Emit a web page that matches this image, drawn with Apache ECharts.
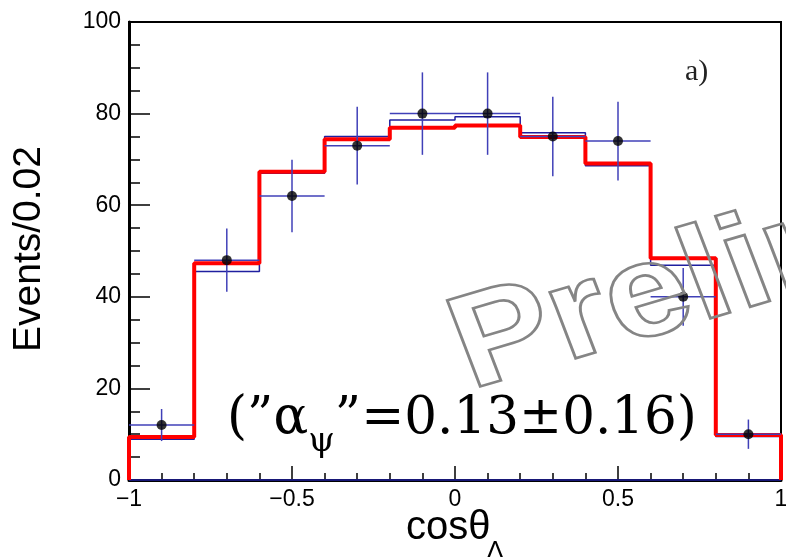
<!DOCTYPE html>
<html><head><meta charset="utf-8">
<script src="https://cdn.jsdelivr.net/npm/echarts@6/dist/echarts.min.js"></script>
<style>html,body{margin:0;padding:0;background:#fff}#c{width:786px;height:557px}</style>
</head><body><div id="c"></div>
<script>
// ---- data ----
const binEdges   = [-1, -0.8, -0.6, -0.4, -0.2, 0, 0.2, 0.4, 0.6, 0.8, 1];
const binCenters = [-0.9, -0.7, -0.5, -0.3, -0.1, 0.1, 0.3, 0.5, 0.7, 0.9];
const dataCounts = [12, 48, 62, 73, 80, 80, 75, 74, 40, 10];
const dataErrors = [3.5, 6.9, 7.9, 8.5, 9.0, 9.0, 8.7, 8.6, 6.3, 3.2];
const fitRed     = [9.4, 47.3, 67.3, 74.4, 76.9, 77.4, 74.9, 69.1, 48.4, 9.8];
const fitBlue    = [8.9, 45.5, 67.0, 75.0, 78.6, 79.3, 75.8, 68.6, 46.9, 9.5];
const xRange = [-1, 1];
const yRange = [0, 100];
const yTitle = 'Events/0.02';
const xTitleMain = 'cosθ';
const xTitleSub = 'Λ';
const panelLabel = 'a)';
const noteParts = ['(”α', 'ψ', '”=0.13±0.16)'];
const watermark = 'Preliminary';

function steps(vals) {
  const d = [[binEdges[0], 0]];
  vals.forEach((v, i) => d.push([binEdges[i], v]));
  d.push([binEdges[binEdges.length - 1], vals[vals.length - 1]]);
  d.push([binEdges[binEdges.length - 1], 0]);
  return d;
}
function tw(text, font) {
  const c = document.createElement('canvas').getContext('2d');
  c.font = font; return c.measureText(text).width;
}
const minus = v => String(v).replace('-', '\u2212');

const chart = echarts.init(document.getElementById('c'), null, {renderer: 'canvas'});

// annotation layout
const f1 = 51.5, f2 = 34, serif = '"DejaVu Serif"';
const nx0 = 227;
const w1 = tw(noteParts[0], f1 + 'px ' + serif);
const w2 = tw(noteParts[1], f2 + 'px ' + serif);
const xtFs = 40;
const cosW = tw(xTitleMain, xtFs + 'px "Liberation Sans"');

// watermark: rotated text inside a horizontally stretched group
const th = 18.6 * Math.PI / 180, wmFs = 132, wmD = 0.346 * wmFs, wmStretch = 1.14;

chart.setOption({
  animation: false,
  grid: {left: 129, right: 5, top: 22, bottom: 77, outerBoundsMode: 'none', containLabel: false,
         show: true, borderColor: '#000', borderWidth: 2, backgroundColor: 'transparent'},
  xAxis: {
    type: 'value', min: xRange[0], max: xRange[1], interval: 0.5,
    axisLine: {onZero: false, lineStyle: {color: '#000', width: 3}},
    axisTick: {inside: true, length: 14, lineStyle: {color: '#000', width: 1.5}},
    minorTick: {show: true, splitNumber: 5, length: 7, lineStyle: {color: '#000', width: 1.5}},
    splitLine: {show: false},
    axisLabel: {fontSize: 23, color: '#000', margin: 8, fontFamily: 'Liberation Sans', showMinLabel: true, showMaxLabel: true, formatter: minus}
  },
  yAxis: {
    type: 'value', min: yRange[0], max: yRange[1], interval: 20,
    axisLine: {onZero: false, lineStyle: {color: '#000', width: 3}},
    axisTick: {inside: true, length: 21, lineStyle: {color: '#000', width: 1.5}},
    minorTick: {show: true, splitNumber: 4, length: 11, lineStyle: {color: '#000', width: 1.5}},
    splitLine: {show: false},
    axisLabel: {fontSize: 23, color: '#000', margin: 8, fontFamily: 'Liberation Sans', formatter: minus}
  },
  series: [
    {type: 'line', step: 'end', data: steps(fitBlue), showSymbol: false, clip: false, z: 2,
     lineStyle: {color: '#1f1f9f', width: 1.5}},
    {type: 'line', data: [[xRange[0], 0], [xRange[1], 0]], showSymbol: false, clip: false, z: 2,
     lineStyle: {color: '#1f1f9f', width: 1.5}},
    {type: 'line', step: 'end', data: steps(fitRed), showSymbol: false, clip: false, z: 3,
     lineStyle: {color: '#ff0000', width: 4}},
    {type: 'custom', z: 4, clip: false,
     data: binCenters.map((c, i) => [c, dataCounts[i], dataErrors[i], (binEdges[i + 1] - binEdges[i]) / 2]),
     renderItem: function (params, api) {
       const x = api.value(0), y = api.value(1), e = api.value(2), hw = api.value(3);
       const t = api.coord([x, y + e]), b = api.coord([x, y - e]);
       const l = api.coord([x - hw, y]), rr = api.coord([x + hw, y]);
       const st = {stroke: '#4040b8', lineWidth: 1.5};
       return {type: 'group', children: [
         {type: 'line', shape: {x1: t[0], y1: t[1], x2: b[0], y2: b[1]}, style: st},
         {type: 'line', shape: {x1: l[0], y1: l[1], x2: rr[0], y2: rr[1]}, style: st}
       ]};
     }},
    {type: 'scatter', z: 5, data: binCenters.map((c, i) => [c, dataCounts[i]]),
     symbol: 'circle', symbolSize: 10, itemStyle: {color: '#000'}}
  ],
  graphic: [
    {type: 'text', x: 29, y: 249, rotation: Math.PI / 2,
     style: {text: yTitle, fontSize: 39, fontFamily: 'Liberation Sans', fill: '#000', align: 'center', verticalAlign: 'middle'}},
    {type: 'text', x: 406, y: 542 - 0.346 * xtFs,
     style: {text: xTitleMain, fontSize: xtFs, fontFamily: 'Liberation Sans', fill: '#000', align: 'left', verticalAlign: 'middle'}},
    {type: 'text', x: 406 + cosW - 4, y: 561 - 0.346 * 26,
     style: {text: xTitleSub, fontSize: 26, fontFamily: 'Liberation Sans', fill: '#000', align: 'left', verticalAlign: 'middle'}},
    {type: 'text', x: 685, y: 82 - 0.3375 * 30,
     style: {text: panelLabel, fontSize: 30, fontFamily: 'Liberation Serif', fill: '#222', align: 'left', verticalAlign: 'middle'}},
    {type: 'text', x: nx0, y: 437 - 0.346 * f1, z: 50,
     style: {text: noteParts[0], fontSize: f1, fontFamily: 'DejaVu Serif', fill: '#000', align: 'left', verticalAlign: 'middle'}},
    {type: 'text', x: nx0 + w1, y: 454 - 0.346 * f2, z: 50,
     style: {text: noteParts[1], fontSize: f2, fontFamily: 'DejaVu Serif', fill: '#000', align: 'left', verticalAlign: 'middle'}},
    {type: 'text', x: nx0 + w1 + w2, y: 437 - 0.346 * f1, z: 50,
     style: {text: noteParts[2], fontSize: f1, fontFamily: 'DejaVu Serif', fill: '#000', align: 'left', verticalAlign: 'middle'}},
    {type: 'group', x: 474, y: 398, scaleX: wmStretch, scaleY: 1, z: 100,
     children: [
       {type: 'text', z: 100, rotation: th,
        x: -wmD * Math.sin(th), y: -wmD * Math.cos(th),
        style: {text: watermark, fontSize: wmFs, fontWeight: 'bold', fontFamily: 'Liberation Sans',
                fill: 'rgba(255,255,255,0)', stroke: '#858585', lineWidth: 2.6, align: 'left', verticalAlign: 'middle'}}
     ]}
  ]
});
</script>
</body></html>
